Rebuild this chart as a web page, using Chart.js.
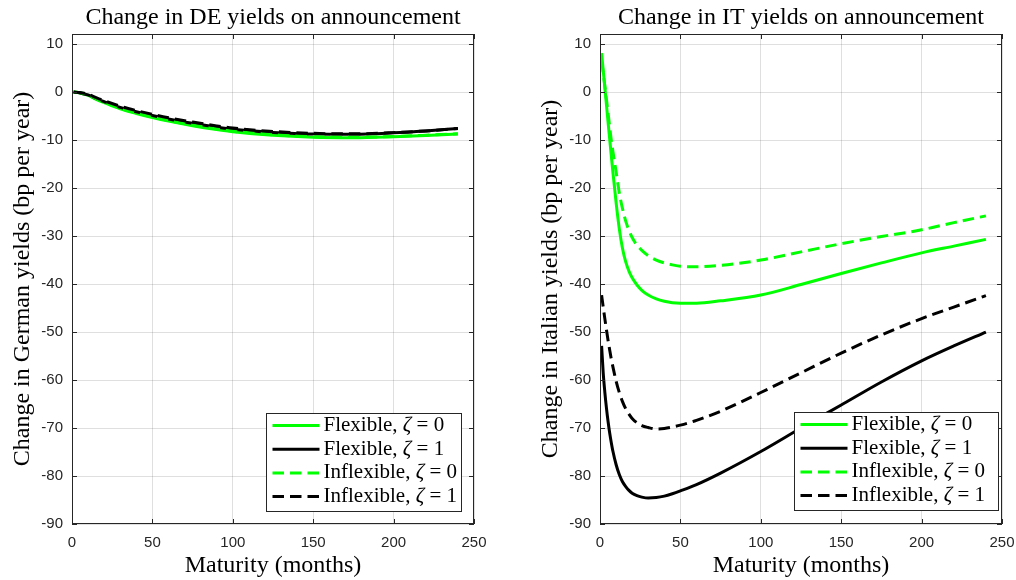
<!DOCTYPE html>
<html><head><meta charset="utf-8">
<script src="https://cdn.jsdelivr.net/npm/chart.js@4.4.1/dist/chart.umd.min.js"></script>
<style>
html,body{margin:0;padding:0;background:#fff;overflow:hidden;width:1016px;height:580px;}
.wrap{position:absolute;top:0;height:580px;}
#w1{left:0;width:508px;}
#w2{left:528px;width:488px;}
canvas{display:block;}
</style></head><body>
<div class="wrap" id="w1"><canvas id="c1" width="508" height="580"></canvas></div>
<div class="wrap" id="w2"><canvas id="c2" width="488" height="580"></canvas></div>
<script>
// ---------- data ----------
const seriesNames = ['Flexible', 'Flexible', 'Inflexible', 'Inflexible'];
const zetaValues = [0, 1, 0, 1];
const xTicks = [0, 50, 100, 150, 200, 250];
const yTicks = [-90, -80, -70, -60, -50, -40, -30, -20, -10, 0, 10];

const deMonths  = [1, 5, 10, 15, 20, 30, 40, 50, 60, 75, 90, 100, 125, 150, 175, 200, 220, 240];
const deFlex0   = [0, -0.2, -0.7, -1.5, -2.2, -3.5, -4.45, -5.3, -6.05, -7.0, -7.8, -8.25, -9.0, -9.4, -9.5, -9.3, -9.05, -8.75];
const deFlex1   = [0, -0.2, -0.6, -1.35, -2.0, -3.2, -4.1, -4.9, -5.6, -6.5, -7.3, -7.75, -8.4, -8.75, -8.8, -8.5, -8.1, -7.6];
const deInflex0 = [0, -0.15, -0.6, -1.4, -2.1, -3.4, -4.35, -5.2, -5.95, -6.9, -7.7, -8.15, -8.9, -9.3, -9.4, -9.25, -9.0, -8.7];
const deInflex1 = [0, -0.1, -0.45, -1.15, -1.8, -2.95, -3.85, -4.65, -5.35, -6.25, -7.05, -7.5, -8.2, -8.6, -8.7, -8.45, -8.1, -7.6];

const itMonths  = [1, 2, 3, 4, 5, 6, 7, 8, 10, 12, 14, 16, 18, 20, 23, 26, 30, 35, 40, 45, 50, 60, 75, 100, 125, 150, 175, 200, 220, 240];
const itFlex0   = [8.1, 4.5, 1.0, -2.6, -6.2, -9.7, -13.2, -16.6, -23.0, -28.5, -32.6, -35.4, -37.3, -38.7, -40.2, -41.3, -42.3, -43.1, -43.6, -43.9, -44.0, -44.0, -43.5, -42.3, -40.1, -37.8, -35.6, -33.5, -32.1, -30.7];
const itFlex1   = [-52.9, -58.5, -62.5, -65.8, -68.6, -71.0, -73.0, -74.8, -77.6, -79.7, -81.2, -82.2, -83.0, -83.6, -84.1, -84.4, -84.6, -84.5, -84.2, -83.7, -83.1, -81.8, -79.4, -74.9, -70.0, -65.2, -60.4, -56.0, -52.9, -50.0];
const itInflex0 = [6.5, 4.0, 1.3, -1.5, -4.3, -7.2, -10.0, -12.3, -16.6, -21.0, -24.3, -26.9, -28.8, -30.3, -31.9, -33.0, -34.1, -35.0, -35.6, -36.0, -36.3, -36.4, -36.1, -35.0, -33.3, -31.6, -30.1, -28.7, -27.2, -25.8];
const itInflex1 = [-42.3, -44.8, -47.2, -49.5, -51.7, -53.7, -55.6, -57.2, -60.2, -62.6, -64.5, -66.0, -67.1, -68.0, -68.9, -69.5, -69.9, -70.2, -70.1, -69.8, -69.4, -68.4, -66.5, -62.6, -58.5, -54.4, -50.6, -47.2, -44.8, -42.4];

// ---------- styles ----------
const GREEN = '#00ff00', BLACK = '#000000';
const lineColors = [GREEN, BLACK, GREEN, BLACK];
const lineDashes = [[], [], [11.5, 6], [11.5, 6]];
const AXIS = '#262626';
const SERIF = '"Liberation Serif", "Times New Roman", serif';
const SANS = '"Liberation Sans", Arial, sans-serif';

function pts(xs, ys) { return xs.map((x, i) => ({x: x, y: ys[i]})); }

const framePlugin = {
  id: 'frame',
  afterDatasetsDraw(chart, args, o) {
    const {ctx, chartArea: a, scales: {x, y}} = chart;
    ctx.save();
    ctx.strokeStyle = AXIS; ctx.lineWidth = 1;
    ctx.beginPath();
    const tl = 5;
    x.ticks.forEach(t => {
      const px = Math.round(x.getPixelForValue(t.value)) + 0.5;
      ctx.moveTo(px, a.bottom); ctx.lineTo(px, a.bottom - tl);
      ctx.moveTo(px, a.top); ctx.lineTo(px, a.top + tl);
    });
    y.ticks.forEach(t => {
      const py = Math.round(y.getPixelForValue(t.value)) + 0.5;
      ctx.moveTo(a.left, py); ctx.lineTo(a.left + tl, py);
      ctx.moveTo(a.right, py); ctx.lineTo(a.right - tl, py);
    });
    ctx.stroke();
    ctx.strokeRect(Math.round(a.left) + 0.5, Math.round(a.top) + 0.5,
                   Math.round(a.right - a.left) - 1, Math.round(a.bottom - a.top) - 1);

    // legend box
    const bw = o.boxWidth, bh = 98;
    const bx = Math.round(a.right - o.rightInset - bw) + 0.5;
    const by = Math.round(a.bottom - o.bottomInset - bh) + 0.5;
    ctx.fillStyle = '#ffffff';
    ctx.fillRect(bx, by, bw, bh);
    ctx.strokeStyle = AXIS;
    ctx.strokeRect(bx, by, bw, bh);
    const fs = 21;
    chart.data.datasets.forEach((ds, i) => {
      const cy = by + 12 + i * 23.7;
      ctx.save();
      ctx.strokeStyle = ds.borderColor; ctx.lineWidth = ds.borderWidth;
      ctx.setLineDash(ds.borderDash || []);
      ctx.lineCap = 'butt';
      ctx.beginPath(); ctx.moveTo(bx + 6, cy); ctx.lineTo(bx + 53, cy); ctx.stroke();
      ctx.restore();
      let tx = bx + 57;
      ctx.fillStyle = '#000';
      ctx.textBaseline = 'middle';
      ctx.textAlign = 'left';
      const parts = [[seriesNames[i] + ', ', 'normal'], ['\u03B6', 'italic'], [' = ' + zetaValues[i], 'normal']];
      parts.forEach(p => {
        ctx.font = p[1] + ' ' + fs + 'px ' + SERIF;
        ctx.fillText(p[0], tx, cy);
        tx += ctx.measureText(p[0]).width;
      });
    });
    ctx.restore();
  }
};

function makeChart(id, title, ylabel, months, series, frameOpts, rightPad) {
  const datasets = series.map((vals, i) => ({
    label: seriesNames[i] + ', \u03B6 = ' + zetaValues[i],
    data: pts(months, vals),
    borderColor: lineColors[i],
    borderDash: lineDashes[i],
    borderWidth: 3,
    pointRadius: 0,
    fill: false,
    cubicInterpolationMode: 'monotone',
    borderCapStyle: 'butt',
    borderJoinStyle: 'round',
    order: 3 - i
  }));
  return new Chart(document.getElementById(id), {
    type: 'line',
    data: {datasets: datasets},
    options: {
      responsive: false,
      animation: false,
      events: [],
      layout: {padding: {left: 0, right: rightPad, top: 0, bottom: 0}},
      plugins: {
        legend: {display: false},
        tooltip: {enabled: false},
        title: {
          display: true, text: title, color: '#000', fullSize: false,
          font: {family: SERIF, size: 24, weight: 'normal', lineHeight: 1.2},
          padding: {top: 3, bottom: 2.2}
        },
        frame: frameOpts
      },
      scales: {
        x: {
          type: 'linear', min: 0, max: 250,
          afterBuildTicks: s => { s.ticks = xTicks.map(v => ({value: v})); },
          afterFit: s => { s.height = 56; s.paddingLeft = 0; s.paddingRight = 0; },
          ticks: {color: AXIS, font: {family: SANS, size: 15}, padding: 10, maxRotation: 0,
                  callback: v => String(v)},
          grid: {color: 'rgba(38,38,38,0.15)', lineWidth: 1, drawTicks: false},
          border: {display: false},
          title: {display: true, text: 'Maturity (months)', color: '#000',
                  font: {family: SERIF, size: 24, lineHeight: 1.2}, padding: {top: 0, bottom: 0}}
        },
        y: {
          type: 'linear', min: -90, max: 12.1,
          afterBuildTicks: s => { s.ticks = yTicks.map(v => ({value: v})); },
          afterFit: s => { s.width = 72; s.paddingTop = 0; s.paddingBottom = 0; },
          ticks: {color: AXIS, font: {family: SANS, size: 15}, padding: 9,
                  callback: v => String(v)},
          grid: {color: 'rgba(38,38,38,0.15)', lineWidth: 1, drawTicks: false},
          border: {display: false},
          title: {display: true, text: ylabel, color: '#000',
                  font: {family: SERIF, size: 24, lineHeight: 1.2}, padding: {top: 8, bottom: 0}}
        }
      }
    },
    plugins: [framePlugin]
  });
}

makeChart('c1', 'Change in DE yields on announcement', 'Change in German yields (bp per year)',
  deMonths, [deFlex0, deFlex1, deInflex0, deInflex1],
  {boxWidth: 195, rightInset: 13, bottomInset: 13}, 34);
makeChart('c2', 'Change in IT yields on announcement', 'Change in Italian yields (bp per year)',
  itMonths, [itFlex0, itFlex1, itInflex0, itInflex1],
  {boxWidth: 204, rightInset: 4, bottomInset: 14}, 14);
</script>
</body></html>
